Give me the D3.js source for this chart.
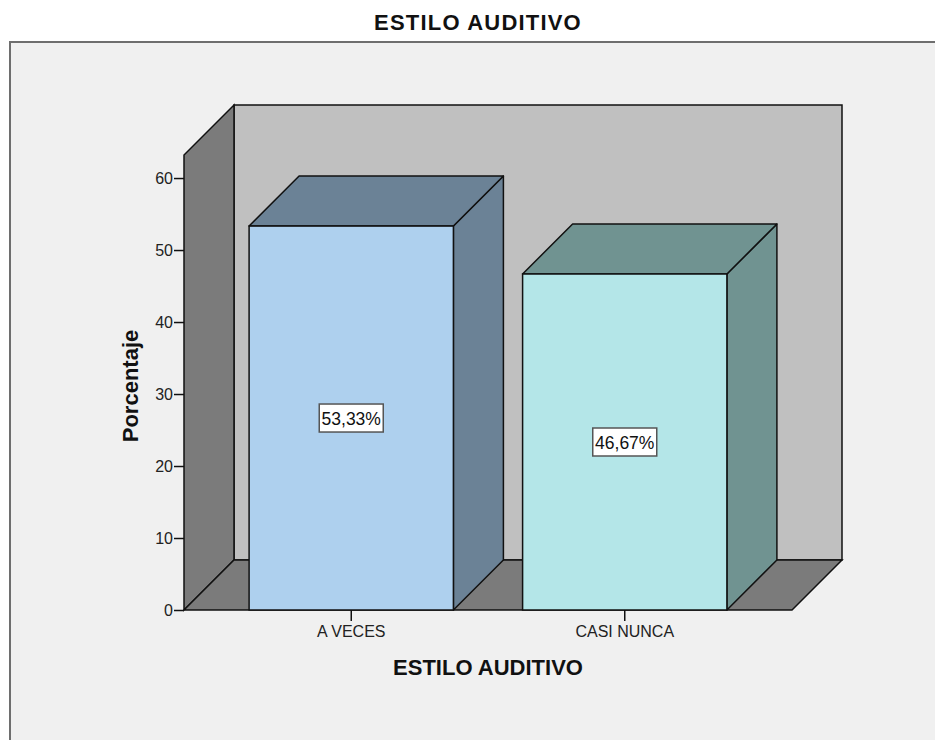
<!DOCTYPE html>
<html>
<head>
<meta charset="utf-8">
<script src="https://cdn.jsdelivr.net/npm/d3@7"></script>
<style>
  body { margin: 0; background: #fff; }
  svg { display: block; font-family: "Liberation Sans", Arial, sans-serif; }
</style>
</head>
<body>
<script>
// data
const categories = ["A VECES", "CASI NUNCA"]
const percents = [53.33, 46.67]
const valueLabels = ["53,33%", "46,67%"]
const yTicks = [0, 10, 20, 30, 40, 50, 60]
const frontColors = ["#aed0ee", "#b4e6e8"]
const shadeColors = ["#6b8296", "#709391"]

const W = 935, H = 740
const svg = d3.select("body").append("svg").attr("width", W).attr("height", H)

// depth offset of the 3d box
const dx = 50, dy = -50

const y = d3.scaleLinear().domain([0, 63.2]).range([610, 155])
const x = d3.scaleBand().domain(categories).range([184, 792])
    .paddingInner(0.253).paddingOuter(0.238)

// outer frame
svg.append("rect").attr("x", 10).attr("y", 42).attr("width", 960).attr("height", 760)
    .attr("fill", "#f0f0f0").attr("stroke", "#6e6e6e").attr("stroke-width", 2)

svg.append("text").attr("x", 478).attr("y", 30).attr("text-anchor", "middle")
    .attr("font-size", 22).attr("font-weight", "bold").attr("fill", "#111")
    .attr("letter-spacing", 1.2)
    .text("ESTILO AUDITIVO")

const x0 = x.range()[0], x1 = x.range()[1]
const yb = y(0), yt = y(y.domain()[1])
const pts = a => a.map(p => p.join(",")).join(" ")

// back wall
svg.append("polygon")
    .attr("points", pts([[x0 + dx, yt + dy], [x1 + dx, yt + dy], [x1 + dx, yb + dy], [x0 + dx, yb + dy]]))
    .attr("fill", "#c0c0c0").attr("stroke", "#111").attr("stroke-width", 1.5)
// left wall
svg.append("polygon")
    .attr("points", pts([[x0, yb], [x0, yt], [x0 + dx, yt + dy], [x0 + dx, yb + dy]]))
    .attr("fill", "#7b7b7b").attr("stroke", "#111").attr("stroke-width", 1.5)
// floor
svg.append("polygon")
    .attr("points", pts([[x0, yb], [x1, yb], [x1 + dx, yb + dy], [x0 + dx, yb + dy]]))
    .attr("fill", "#7b7b7b").attr("stroke", "#111").attr("stroke-width", 1.5)

// y axis
const yAxis = d3.axisLeft(y).tickValues(yTicks).tickSize(10).tickPadding(1).tickSizeOuter(0)
const ya = svg.append("g").attr("transform", `translate(${x0},0)`).call(yAxis)
ya.select(".domain").remove()
ya.selectAll("line").attr("stroke", "#111").attr("stroke-width", 1.5)
ya.selectAll("text").attr("font-size", 16).attr("fill", "#222")
    .attr("font-family", "Liberation Sans, Arial, sans-serif")

// x axis
const xAxis = d3.axisBottom(x).tickSize(11).tickPadding(5).tickSizeOuter(0)
const xa = svg.append("g").attr("transform", `translate(0,${yb})`).call(xAxis)
xa.select(".domain").remove()
xa.selectAll("line").attr("stroke", "#111").attr("stroke-width", 1.5)
xa.selectAll("text").attr("font-size", 16).attr("fill", "#222")
    .attr("font-family", "Liberation Sans, Arial, sans-serif")

// bars
const bars = svg.selectAll("g.bar").data(categories).join("g").attr("class", "bar")
bars.each(function (c, i) {
    const g = d3.select(this)
    const bx0 = x(c), bx1 = x(c) + x.bandwidth(), top = y(percents[i])
    g.append("polygon")
        .attr("points", pts([[bx1, yb], [bx1, top], [bx1 + dx, top + dy], [bx1 + dx, yb + dy]]))
        .attr("fill", shadeColors[i]).attr("stroke", "#111").attr("stroke-width", 1.5).attr("stroke-linejoin", "round")
    g.append("polygon")
        .attr("points", pts([[bx0, top], [bx1, top], [bx1 + dx, top + dy], [bx0 + dx, top + dy]]))
        .attr("fill", shadeColors[i]).attr("stroke", "#111").attr("stroke-width", 1.5).attr("stroke-linejoin", "round")
    g.append("rect").attr("x", bx0).attr("y", top).attr("width", x.bandwidth()).attr("height", yb - top)
        .attr("fill", frontColors[i]).attr("stroke", "#111").attr("stroke-width", 1.5)

    // value label box
    const cx = bx0 + x.bandwidth() / 2, cy = (top + yb) / 2
    g.append("rect").attr("x", cx - 32).attr("y", cy - 14).attr("width", 64).attr("height", 28)
        .attr("fill", "#fff").attr("stroke", "#555").attr("stroke-width", 1.5)
    g.append("text").attr("x", cx).attr("y", cy + 6.5).attr("text-anchor", "middle")
        .attr("font-size", 17.5).attr("fill", "#111").text(valueLabels[i])
})

// axis titles
svg.append("text").attr("x", 488).attr("y", 675).attr("text-anchor", "middle")
    .attr("font-size", 22).attr("font-weight", "bold").attr("fill", "#111")
    .text("ESTILO AUDITIVO")
svg.append("text").attr("transform", "translate(138,386) rotate(-90)").attr("text-anchor", "middle")
    .attr("font-size", 22).attr("font-weight", "bold").attr("fill", "#111")
    .text("Porcentaje")
</script>
</body>
</html>
